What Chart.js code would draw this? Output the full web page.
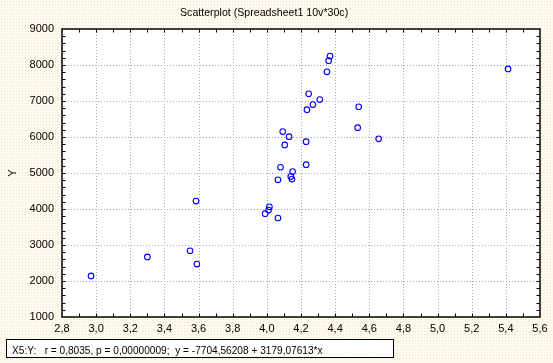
<!DOCTYPE html>
<html>
<head>
<meta charset="utf-8">
<script src="https://cdn.jsdelivr.net/npm/chart.js@4/dist/chart.umd.min.js"></script>
<style>
  html, body { margin: 0; padding: 0; }
  body {
    width: 553px; height: 363px; position: relative; overflow: hidden;
    background-color: #fdfbec;
    background-image: radial-gradient(circle, rgba(235,200,200,0.55) 0.6px, transparent 0.9px);
    background-size: 3px 3px;
    font-family: "Liberation Sans", Arial, sans-serif;
  }
  #wrap { position: absolute; left: 0; top: 0; width: 553px; height: 363px; }
  #title { position: absolute; left: 180px; top: 6px; font-size: 11px; color: #000; white-space: pre;
           transform: scaleX(0.965); transform-origin: left top; }
  #stats { position: absolute; left: 6px; top: 339px; width: 381px; height: 17px; border: 1px solid #000;
           background: #fff; line-height: 17px; padding-left: 5px; box-sizing: content-box; color:#000; }
  #stats span { display: inline-block; font-size: 11px; white-space: pre; transform: scaleX(0.92); transform-origin: left center; }
</style>
</head>
<body>
<div id="wrap"><canvas id="c" width="553" height="363"></canvas></div>
<div id="title">Scatterplot (Spreadsheet1 10v*30c)</div>
<div id="stats"><span>X5:Y:   r = 0,8035, p = 0,00000009;  y = -7704,56208 + 3179,07613*x</span></div>
<script>
const xValues = [2.97, 3.30, 3.55, 3.59, 3.585, 3.99, 4.01, 4.015, 4.065, 4.065,
                 4.08, 4.14, 4.147, 4.151, 4.23, 4.23, 4.093, 4.105, 4.13, 4.235,
                 4.245, 4.27, 4.31, 4.352, 4.362, 4.37, 4.532, 4.538, 4.655, 5.413];
const yValues = [2140, 2670, 2840, 2470, 4220, 3870, 3970, 4060, 3750, 4810,
                 5160, 4900, 4830, 5040, 5230, 5870, 6150, 5780, 6010, 6760,
                 7200, 6900, 7040, 7810, 8120, 8250, 6260, 6840, 5950, 7890];
const xTickLabels = ["2,8","3,0","3,2","3,4","3,6","3,8","4,0","4,2","4,4","4,6","4,8","5,0","5,2","5,4","5,6"];
const yTickLabels = ["1000","2000","3000","4000","5000","6000","7000","8000","9000"];
const xMin = 2.8, xMax = 5.6, xStep = 0.2, xMinor = 0.1;
const yMin = 1000, yMax = 9000, yStep = 1000, yMinor = 200;

const points = xValues.map((x, i) => ({ x: x, y: yValues[i] }));

const plotBg = {
  id: 'plotBg',
  beforeDatasetsDraw(chart) {
    const { ctx, chartArea: a, scales } = chart;
    ctx.save();
    ctx.fillStyle = '#fff';
    ctx.fillRect(a.left, a.top, a.right - a.left, a.bottom - a.top);
    ctx.strokeStyle = '#a8a8a8';
    ctx.lineWidth = 1;
    ctx.setLineDash([1, 2]);
    ctx.beginPath();
    scales.x.ticks.forEach(t => {
      const px = Math.round(scales.x.getPixelForValue(t.value)) + 0.5;
      if (px > a.left + 1 && px < a.right - 1) { ctx.moveTo(px, a.top); ctx.lineTo(px, a.bottom); }
    });
    scales.y.ticks.forEach(t => {
      const py = Math.round(scales.y.getPixelForValue(t.value)) + 0.5;
      if (py > a.top + 1 && py < a.bottom - 1) { ctx.moveTo(a.left, py); ctx.lineTo(a.right, py); }
    });
    ctx.stroke();
    ctx.restore();
  }
};

const frameTicks = {
  id: 'frameTicks',
  afterDatasetsDraw(chart) {
    const { ctx, chartArea: a, scales } = chart;
    const xs = scales.x, ys = scales.y;
    ctx.save();
    ctx.strokeStyle = '#000';
    ctx.lineWidth = 1;
    ctx.beginPath();
    const L = 3.5;
    const nx = Math.round((xMax - xMin) / xMinor);
    for (let i = 1; i < nx; i++) {
      const px = Math.round(xs.getPixelForValue(xMin + i * xMinor)) + 0.5;
      ctx.moveTo(px, a.bottom); ctx.lineTo(px, a.bottom - L);
      ctx.moveTo(px, a.top); ctx.lineTo(px, a.top + L);
    }
    const ny = Math.round((yMax - yMin) / yMinor);
    for (let i = 1; i < ny; i++) {
      const py = Math.round(ys.getPixelForValue(yMin + i * yMinor)) + 0.5;
      ctx.moveTo(a.left, py); ctx.lineTo(a.left + L, py);
      ctx.moveTo(a.right, py); ctx.lineTo(a.right - L, py);
    }
    ctx.stroke();
    ctx.lineWidth = 1.5;
    ctx.strokeRect(a.left, a.top, a.right - a.left, a.bottom - a.top);
    ctx.restore();
  }
};

new Chart(document.getElementById('c'), {
  type: 'scatter',
  data: {
    datasets: [{
      data: points,
      pointStyle: 'circle',
      pointRadius: 2.8,
      pointHoverRadius: 2.8,
      pointBorderWidth: 1.1,
      pointBorderColor: '#0000ff',
      pointBackgroundColor: 'rgba(255,255,255,0)'
    }]
  },
  options: {
    responsive: false,
    animation: false,
    devicePixelRatio: 1,
    layout: { padding: { left: 0, top: 29, right: 13, bottom: 0 } },
    plugins: { legend: { display: false }, tooltip: { enabled: false }, title: { display: false } },
    scales: {
      x: {
        type: 'linear', min: xMin, max: xMax,
        afterFit(s) { s.height = 46; },
        afterBuildTicks(s) {
          s.ticks = xTickLabels.map((_, i) => ({ value: xMin + i * xStep }));
        },
        grid: { display: false, drawTicks: false },
        border: { display: false },
        ticks: {
          padding: 5,
          color: '#000',
          font: { family: 'Liberation Sans', size: 11 },
          maxRotation: 0, autoSkip: false,
          callback(v) { return xTickLabels[Math.round((v - xMin) / xStep)]; }
        }
      },
      y: {
        type: 'linear', min: yMin, max: yMax,
        afterFit(s) { s.width = 62; },
        afterBuildTicks(s) {
          s.ticks = yTickLabels.map((_, i) => ({ value: yMin + i * yStep }));
        },
        grid: { display: false, drawTicks: false },
        border: { display: false },
        title: { display: true, text: 'Y', color: '#000', font: { family: 'Liberation Sans', size: 11 }, padding: { top: 6, bottom: 2 } },
        ticks: {
          padding: 8,
          color: '#000',
          font: { family: 'Liberation Sans', size: 11 },
          autoSkip: false,
          callback(v) { return yTickLabels[Math.round((v - yMin) / yStep)]; }
        }
      }
    }
  },
  plugins: [plotBg, frameTicks]
});
</script>
</body>
</html>
